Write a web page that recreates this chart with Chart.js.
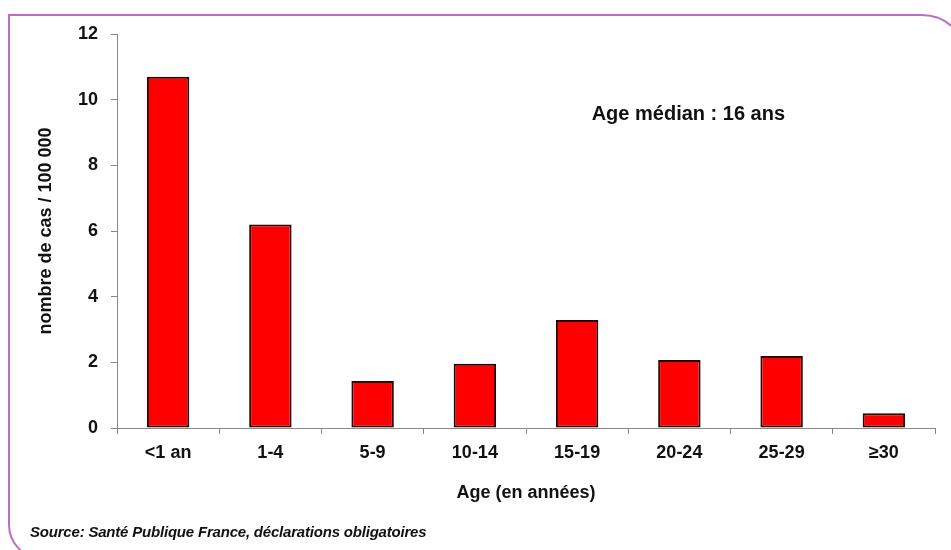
<!DOCTYPE html>
<html>
<head>
<meta charset="utf-8">
<script src="https://cdn.jsdelivr.net/npm/chart.js@4/dist/chart.umd.min.js"></script>
<style>
  html, body { margin: 0; padding: 0; background: #ffffff; overflow: hidden; }
  #wrap { position: relative; width: 951px; height: 550px; }
  #frame {
    position: absolute; left: 8px; top: 14px; width: 960px; height: 545px;
    border: 2px solid #c06cc4; border-radius: 0 46px 0 34px; box-sizing: border-box;
  }
  canvas { position: absolute; left: 0; top: 0; }
  #source {
    position: absolute; left: 30px; top: 523px;
    font: italic bold 15px "Liberation Sans", Arial, sans-serif; color: #111;
    white-space: nowrap; letter-spacing: -0.2px;
  }
</style>
</head>
<body>
<div id="wrap">
  <div id="frame"></div>
  <canvas id="c" width="951" height="550"></canvas>
  <div id="source">Source: Santé Publique France, déclarations obligatoires</div>
</div>
<script>
const categories = ["<1 an", "1-4", "5-9", "10-14", "15-19", "20-24", "25-29", "≥30"];
const incidence = [10.7, 6.2, 1.43, 1.96, 3.29, 2.07, 2.19, 0.45];
const yTicks = [0, 2, 4, 6, 8, 10, 12];
const yTitle = "nombre de cas / 100 000";
const xTitle = "Age (en années)";
const annotationText = "Age médian : 16 ans";

const FONT = '"Liberation Sans", Arial, sans-serif';

const annotationPlugin = {
  id: 'medianNote',
  afterDraw(chart) {
    const ctx = chart.ctx;
    const x = chart.scales.x;
    const y = chart.scales.y;
    ctx.save();
    ctx.font = 'bold 20px ' + FONT;
    ctx.fillStyle = '#111';
    ctx.textAlign = 'center';
    ctx.textBaseline = 'middle';
    const cx = x.getPixelForValue(5) + 9;
    ctx.fillText(annotationText, cx, y.getPixelForValue(9.54));
    ctx.restore();
  }
};

new Chart(document.getElementById('c'), {
  type: 'bar',
  data: {
    labels: categories,
    datasets: [{
      data: incidence,
      backgroundColor: '#ff0000',
      borderColor: '#2a0000',
      borderWidth: 2,
      borderSkipped: false,
      categoryPercentage: 1,
      barPercentage: 0.415
    }]
  },
  options: {
    responsive: false,
    animation: false,
    devicePixelRatio: 1,
    layout: { padding: { left: 31, top: 34, right: 16, bottom: 42 } },
    plugins: { legend: { display: false }, tooltip: { enabled: false } },
    scales: {
      y: {
        min: 0, max: 12,
        afterBuildTicks(scale) { scale.ticks = yTicks.map(v => ({ value: v })); },
        afterFit(scale) { scale.width = 86; },
        ticks: { font: { family: FONT, size: 18, weight: 'bold' }, color: '#111', padding: 13 },
        grid: { drawOnChartArea: false, drawTicks: true, tickLength: 6, color: '#888' },
        border: { display: true, color: '#888', width: 1 },
        title: { display: true, text: yTitle, font: { family: FONT, size: 18, weight: 'bold' }, color: '#111', padding: { top: 4, bottom: 4 } }
      },
      x: {
        afterFit(scale) { scale.height = 80; },
        ticks: { font: { family: FONT, size: 18, weight: 'bold' }, color: '#111', padding: 8, maxRotation: 0, autoSkip: false },
        grid: { drawOnChartArea: false, drawTicks: true, tickLength: 6, color: '#888', offset: true },
        border: { display: true, color: '#888', width: 1 },
        title: { display: true, text: xTitle, font: { family: FONT, size: 18, weight: 'bold' }, color: '#111', padding: { top: 4, bottom: 4 } }
      }
    }
  },
  plugins: [annotationPlugin]
});
</script>
</body>
</html>
